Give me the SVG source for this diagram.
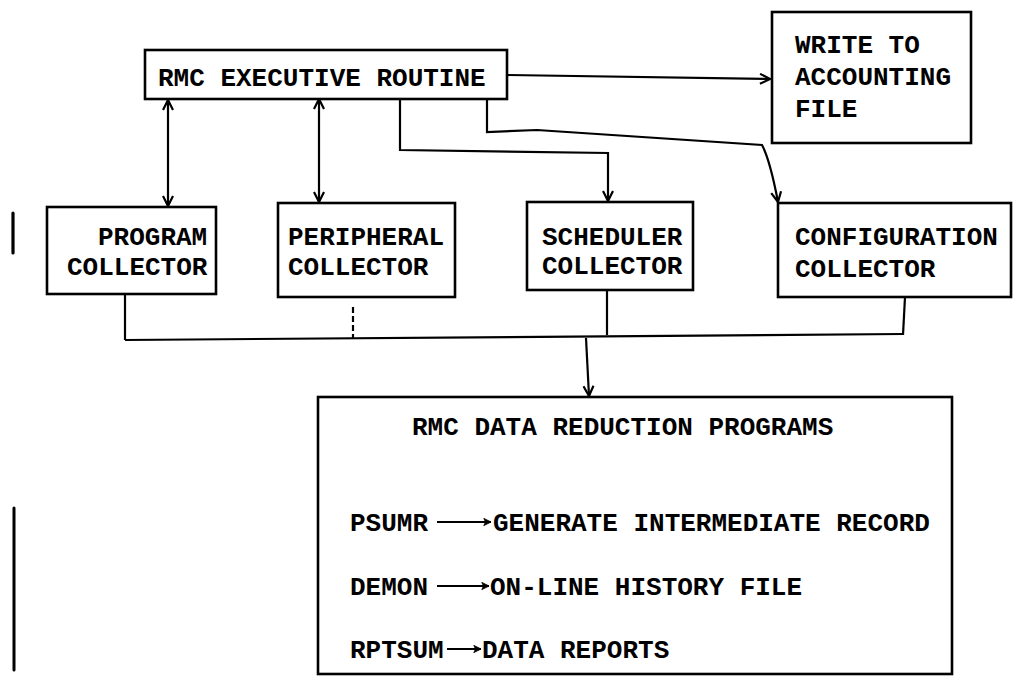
<svg xmlns="http://www.w3.org/2000/svg" width="1013" height="676" viewBox="0 0 1013 676">
<style>
.box{fill:none;stroke:#000;stroke-width:2.6}
.ln{fill:none;stroke:#000;stroke-width:2.2}
.t{font-family:"Liberation Mono","DejaVu Sans Mono",monospace;font-weight:bold;font-size:26px;fill:#000}
</style>
<defs>
<marker id="ah" viewBox="0 0 12 12" refX="11" refY="6" markerWidth="12" markerHeight="12" markerUnits="userSpaceOnUse" orient="auto-start-reverse">
<path d="M1,1 L11,6 L1,11" fill="none" stroke="#000" stroke-width="2.2"/>
</marker>
<marker id="ahs" viewBox="0 0 10 10" refX="9" refY="5" markerWidth="9" markerHeight="9" markerUnits="userSpaceOnUse" orient="auto">
<path d="M1,1 L9,5 L1,9 L3,5 Z" fill="#000" stroke="#000" stroke-width="1"/>
</marker>
</defs>
<rect width="1013" height="676" fill="#fff"/>
<g id="connectors">
<path class="ln" d="M507,75 L770,79" marker-end="url(#ah)"/>
<path class="ln" d="M168,100 L168,206" marker-start="url(#ah)" marker-end="url(#ah)"/>
<path class="ln" d="M319,99 L319,202" marker-start="url(#ah)" marker-end="url(#ah)"/>
<path class="ln" d="M400,99 V150 L608,153 V201" marker-end="url(#ah)"/>
<path class="ln" d="M487,99 V132 L537,130 L762,145 Q770,160 778,202" marker-end="url(#ah)"/>
<path class="ln" d="M125,294 V340"/>
<path class="ln" d="M125,340 L903,334"/>
<path class="ln" d="M353,307 V339" stroke-dasharray="6,3"/>
<path class="ln" d="M607,290 V335"/>
<path class="ln" d="M905,297 L903,335"/>
<path class="ln" d="M586,338 L589,396" marker-end="url(#ah)"/>
<path class="ln" d="M437,522 L491,522" marker-end="url(#ahs)"/>
<path class="ln" d="M437,586 L489,586" marker-end="url(#ahs)"/>
<path class="ln" d="M447,649 L481,649" marker-end="url(#ahs)"/>
</g>
<g id="bars">
<path d="M13,213 V253" stroke="#000" stroke-width="3.2" stroke-linecap="round"/>
<path d="M14,508 V670" stroke="#000" stroke-width="3" stroke-linecap="round"/>
</g>
<g id="exec">
<rect class="box" x="145" y="50" width="362" height="49"/>
<text class="t" x="158" y="86">RMC EXECUTIVE ROUTINE</text>
</g>
<g id="write">
<rect class="box" x="772" y="12" width="199" height="131"/>
<text class="t" x="795" y="53">WRITE TO</text>
<text class="t" x="795" y="85">ACCOUNTING</text>
<text class="t" x="795" y="117">FILE</text>
</g>
<g id="program">
<rect class="box" x="47" y="207" width="169" height="87"/>
<text class="t" x="98" y="245">PROGRAM</text>
<text class="t" x="67" y="275">COLLECTOR</text>
</g>
<g id="peripheral">
<rect class="box" x="278" y="203" width="177" height="94"/>
<text class="t" x="288" y="245">PERIPHERAL</text>
<text class="t" x="288" y="275">COLLECTOR</text>
</g>
<g id="scheduler">
<rect class="box" x="527" y="202" width="166" height="88"/>
<text class="t" x="542" y="245">SCHEDULER</text>
<text class="t" x="542" y="274">COLLECTOR</text>
</g>
<g id="configuration">
<rect class="box" x="778" y="203" width="233" height="94"/>
<text class="t" x="795" y="245">CONFIGURATION</text>
<text class="t" x="795" y="277">COLLECTOR</text>
</g>
<g id="reduction">
<rect class="box" x="318" y="397" width="634" height="277"/>
<text class="t" x="412" y="435">RMC DATA REDUCTION PROGRAMS</text>
<text class="t" x="350" y="531">PSUMR</text>
<text class="t" x="493" y="531">GENERATE INTERMEDIATE RECORD</text>
<text class="t" x="350" y="595">DEMON</text>
<text class="t" x="490" y="595">ON-LINE HISTORY FILE</text>
<text class="t" x="350" y="658">RPTSUM</text>
<text class="t" x="482" y="658">DATA REPORTS</text>
</g>
</svg>
